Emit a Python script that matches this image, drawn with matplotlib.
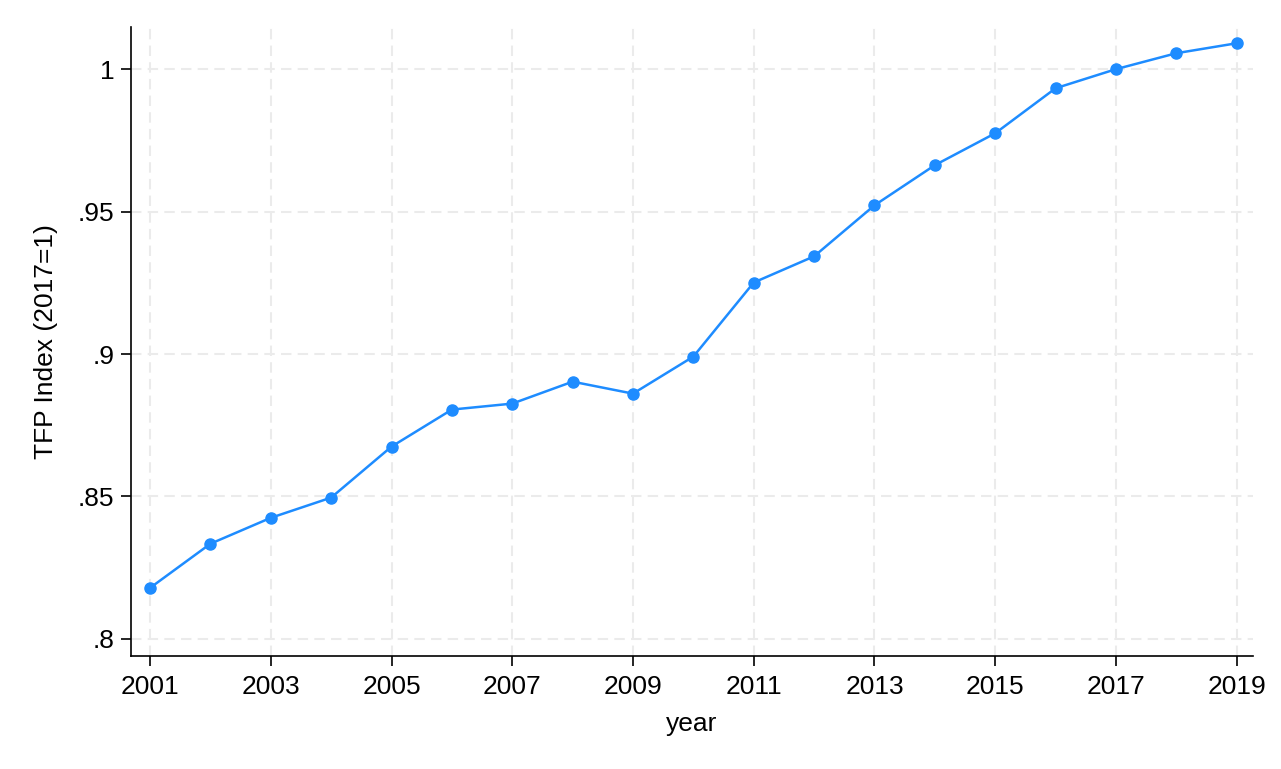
import matplotlib
matplotlib.use('Agg')
import matplotlib.pyplot as plt

# TFP index series (2017 = 1)
years = list(range(2001, 2020))
tfp = [0.8179, 0.8334, 0.8425, 0.8496, 0.8675, 0.8805, 0.8826, 0.8903, 0.8861,
       0.8991, 0.9251, 0.9343, 0.9522, 0.9663, 0.9775, 0.9933, 1.0, 1.0056, 1.0091]

xticks = list(range(2001, 2020, 2))
yticks = [0.8, 0.85, 0.9, 0.95, 1.0]
ytick_labels = ['.8', '.85', '.9', '.95', '1']

plt.rcParams['font.family'] = ['Liberation Sans', 'DejaVu Sans']

fig = plt.figure(figsize=(12.81, 7.69), dpi=100)
ax = fig.add_axes([131/1281, 1-656/769, (1253-131)/1281, (656-27)/769])

ax.plot(years, tfp, color='#1e8cff', linewidth=1.8, marker='o', markersize=8, zorder=3)

ax.set_xlim(2000.685, 2019.27)
ax.set_ylim(0.794, 1.0148)
ax.set_xticks(xticks)
ax.set_yticks(yticks)
ax.set_yticklabels(ytick_labels)

ax.grid(True, color='#ebebeb', linestyle=(0, (5, 3)), linewidth=1.5)
ax.set_axisbelow(True)

for s in ['top', 'right']:
    ax.spines[s].set_visible(False)
for s in ['left', 'bottom']:
    ax.spines[s].set_linewidth(1.2)

ax.tick_params(axis='both', labelsize=19, length=7, width=1.2)
ax.tick_params(axis='x', pad=7)
ax.tick_params(axis='y', pad=5)
ax.set_xlabel('year', fontsize=19, labelpad=9)
ax.set_ylabel('TFP Index (2017=1)', fontsize=19, labelpad=14)

fig.savefig('out.png', dpi=100)
